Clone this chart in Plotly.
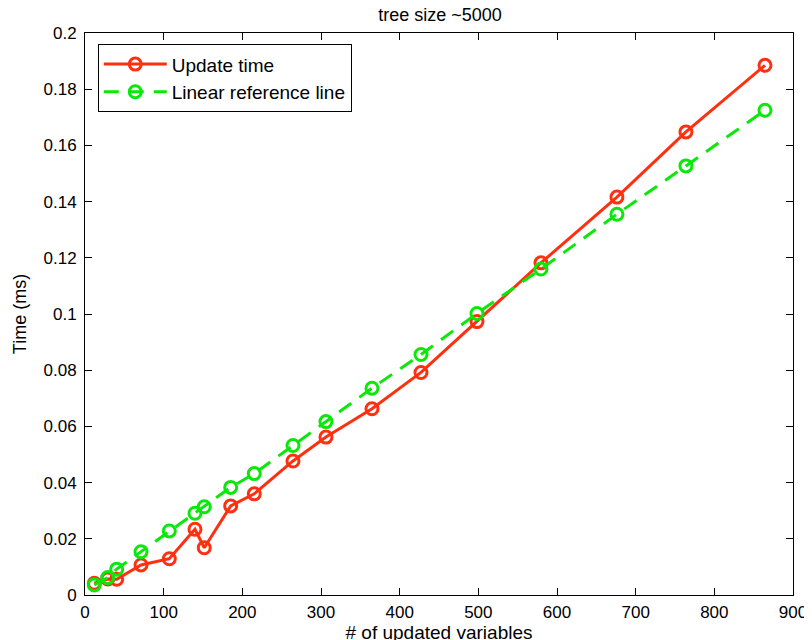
import plotly.graph_objects as go

x_vars = [11.8, 28.9, 40.3, 71.2, 107.2, 139.8, 151.6, 185.2, 215.2, 264.4, 306.3, 364.8, 427.1, 498.3, 579.6, 676.2, 763.9, 864.4]
update_time = [0.0042, 0.0057, 0.0056, 0.0107, 0.0129, 0.0234, 0.0168, 0.0317, 0.0360, 0.0477, 0.0562, 0.0663, 0.0792, 0.0973, 0.1182, 0.1416, 0.1648, 0.1885]
linear_ref = [0.0036, 0.0062, 0.0092, 0.0154, 0.0228, 0.0291, 0.0314, 0.0383, 0.0432, 0.0532, 0.0617, 0.0736, 0.0856, 0.1002, 0.1160, 0.1355, 0.1527, 0.1725]

x_ticks = [0, 100, 200, 300, 400, 500, 600, 700, 800, 900]
y_ticks = [0, 0.02, 0.04, 0.06, 0.08, 0.1, 0.12, 0.14, 0.16, 0.18, 0.2]
y_tick_text = ["0", "0.02", "0.04", "0.06", "0.08", "0.1", "0.12", "0.14", "0.16", "0.18", "0.2"]

RED = "rgb(255,48,16)"
GREEN = "rgb(10,232,10)"
FONT = "Liberation Sans, Arial, sans-serif"

fig = go.Figure()
fig.add_trace(go.Scatter(
    x=x_vars, y=update_time, name="Update time", mode="lines+markers",
    line=dict(color=RED, width=3),
    marker=dict(symbol="circle-open", size=12, color=RED, line=dict(width=3, color=RED)),
))
fig.add_trace(go.Scatter(
    x=x_vars, y=linear_ref, name="Linear reference line", mode="lines+markers",
    line=dict(color=GREEN, width=3, dash="15px,10px"),
    marker=dict(symbol="circle-open", size=12, color=GREEN, line=dict(width=3, color=GREEN)),
))

axis_common = dict(
    showline=True, linecolor="black", linewidth=1, mirror="ticks",
    ticks="inside", ticklen=7, tickcolor="black", tickwidth=1,
    showgrid=False, zeroline=False, automargin=False,
    tickfont=dict(family=FONT, size=17, color="black"),
)

# the page adds an 8px body margin, so the plot area is placed 8px up/left
fig.update_layout(
    width=812, height=640,
    margin=dict(l=77, r=27, t=25, b=53),
    paper_bgcolor="white", plot_bgcolor="white",
    font=dict(family=FONT, color="black"),
    title=dict(text="tree size ~5000", x=0.532, xanchor="center", y=0.989, yanchor="middle",
               font=dict(family=FONT, size=18, color="black"),
               automargin=False),
    xaxis=dict(range=[0, 900], tickvals=x_ticks, ticklabelstandoff=2,
               title=dict(text="# of updated variables", font=dict(family=FONT, size=19), standoff=2),
               **axis_common),
    yaxis=dict(range=[0, 0.2], tickvals=y_ticks, ticktext=y_tick_text, ticklabelstandoff=4,
               title=dict(text="Time (ms)", font=dict(family=FONT, size=18), standoff=12),
               **axis_common),
    legend=dict(x=0.018, y=0.98, xanchor="left", yanchor="top",
                bordercolor="black", borderwidth=1, bgcolor="white",
                font=dict(family=FONT, size=19, color="black"),
                itemwidth=63),
    showlegend=True,
)

fig.write_html("out.html")
